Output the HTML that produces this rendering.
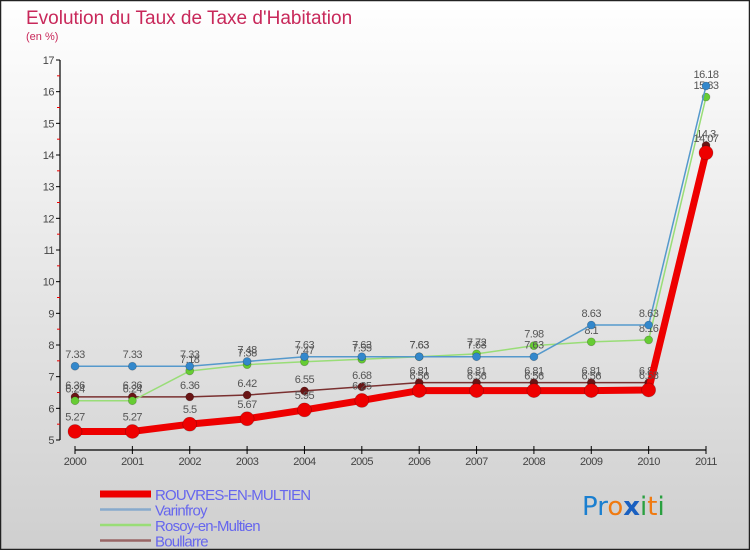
<!DOCTYPE html>
<html><head><meta charset="utf-8">
<style>
html,body{margin:0;padding:0;}
body{width:750px;height:550px;overflow:hidden;font-family:"Liberation Sans",sans-serif;}
</style></head>
<body>
<svg id="chart" width="750" height="550" xmlns="http://www.w3.org/2000/svg">
<defs>
<linearGradient id="bg" x1="0" y1="0" x2="0" y2="1">
<stop offset="0" stop-color="#ffffff"/><stop offset="1" stop-color="#cfcfcf"/>
</linearGradient>
</defs>
<rect x="0.5" y="0.5" width="749" height="549" fill="url(#bg)" stroke="#222" stroke-width="1.5"/>
<text x="26" y="24" font-size="19" fill="#c8285a">Evolution du Taux de Taxe d'Habitation</text>
<text x="26" y="40" font-size="11" fill="#c8285a">(en %)</text>
<g id="axes"></g>
<g id="series"></g>
<g id="legend"></g>
<g font-size="26" font-family="'DejaVu Sans',sans-serif">
<text x="582" y="515"><tspan fill="#1a7fd0">Pr</tspan><tspan fill="#f07a10">o</tspan><tspan fill="#1a60c0" font-weight="bold">x</tspan><tspan fill="#2aa040">i</tspan><tspan fill="#f07a10">t</tspan><tspan fill="#2aa040">i</tspan></text>
</g>
</svg>
<script>
const years=["2000","2001","2002","2003","2004","2005","2006","2007","2008","2009","2010","2011"];
const rouvres=[5.27,5.27,5.5,5.67,5.95,6.25,6.56,6.56,6.56,6.56,6.58,14.07];
const varinfroy=[7.33,7.33,7.33,7.48,7.63,7.63,7.63,7.63,7.63,8.63,8.63,16.18];
const rosoy=[6.24,6.24,7.18,7.38,7.47,7.55,7.63,7.72,7.98,8.1,8.16,15.83];
const boullarre=[6.36,6.36,6.36,6.42,6.55,6.68,6.81,6.81,6.81,6.81,6.81,14.3];
const yTicks=[5,6,7,8,9,10,11,12,13,14,15,16,17];
const seriesNames=["ROUVRES-EN-MULTIEN","Varinfroy","Rosoy-en-Multien","Boullarre"];

const NS="http://www.w3.org/2000/svg";
function X(i){return 75+i*(706-75)/(years.length-1);}
function Y(v){return 440-(v-5)*(380/12);}
function mk(tag,attrs,parent,txt){const e=document.createElementNS(NS,tag);for(const k in attrs)e.setAttribute(k,attrs[k]);if(txt!==undefined)e.textContent=txt;parent.appendChild(e);return e;}
const axes=document.getElementById('axes');
let e;
e=mk('line',{x1:60,y1:Y(17),x2:60,y2:Y(5),stroke:'#000','stroke-width':1.2},axes);


yTicks.forEach(v=>{
 mk('line',{x1:56,y1:Y(v),x2:60,y2:Y(v),stroke:'#000'},axes);
 if(v<17)mk('line',{x1:57,y1:Y(v+0.5),x2:60,y2:Y(v+0.5),stroke:'#e00'},axes);
 e=mk('text',{x:54,y:Y(v)+4,'font-size':11,'text-anchor':'end',fill:'#444','letter-spacing':'-0.5'},axes,String(v));
 
 
});
e=mk('line',{x1:75,y1:450,x2:706,y2:450,stroke:'#000','stroke-width':1.2},axes);


years.forEach((y,i)=>{
 mk('line',{x1:X(i),y1:446,x2:X(i),y2:454,stroke:'#000'},axes);
 e=mk('text',{x:X(i),y:465,'font-size':11,'text-anchor':'middle',fill:'#444','letter-spacing':'-0.5'},axes,y);
 
 
});
const sg=document.getElementById('series');
function draw(data,color,dot,lw,r,name,labelDy){
 const g=mk('g',{},sg);
 
 
 mk('polyline',{points:data.map((v,i)=>X(i)+','+Y(v)).join(' '),fill:'none',stroke:color,'stroke-width':lw,'stroke-linejoin':'round'},g);
 data.forEach((v,i)=>{
  const c=mk('circle',{cx:X(i),cy:Y(v),r:r,fill:dot,stroke:'rgba(0,0,0,0.25)','stroke-width':0.7},g);
  
  
  const t=mk('text',{x:X(i),y:Y(v)-labelDy,'font-size':11,'text-anchor':'middle',fill:'#555','letter-spacing':'-0.5'},g,String(v));
  
  
 });
}
draw(boullarre,'#7a3030','#6a1515',1.5,4,'series-boullarre',8);
draw(rosoy,'#99dd77','#66cc33',1.5,4,'series-rosoy',8);
draw(varinfroy,'#5599cc','#3388cc',1.5,4,'series-varinfroy',8);
draw(rouvres,'#ee0000','#ee0000',7,7,'series-rouvres',11);

const lg=document.getElementById('legend');
const lcol=['#ee0000','#88aacc','#99dd77','#996666'];
const lw=[7,2.5,2.5,2.5];
seriesNames.forEach((n,i)=>{
 const y=494+i*15.5;
 const g=mk('g',{},lg);
 
 
 mk('line',{x1:100,y1:y,x2:151,y2:y,stroke:lcol[i],'stroke-width':lw[i]},g);
 mk('text',{x:155,y:y+6,'font-size':15,fill:'#6666ee','letter-spacing':'-0.8'},g,n);
});
</script>
</body></html>
